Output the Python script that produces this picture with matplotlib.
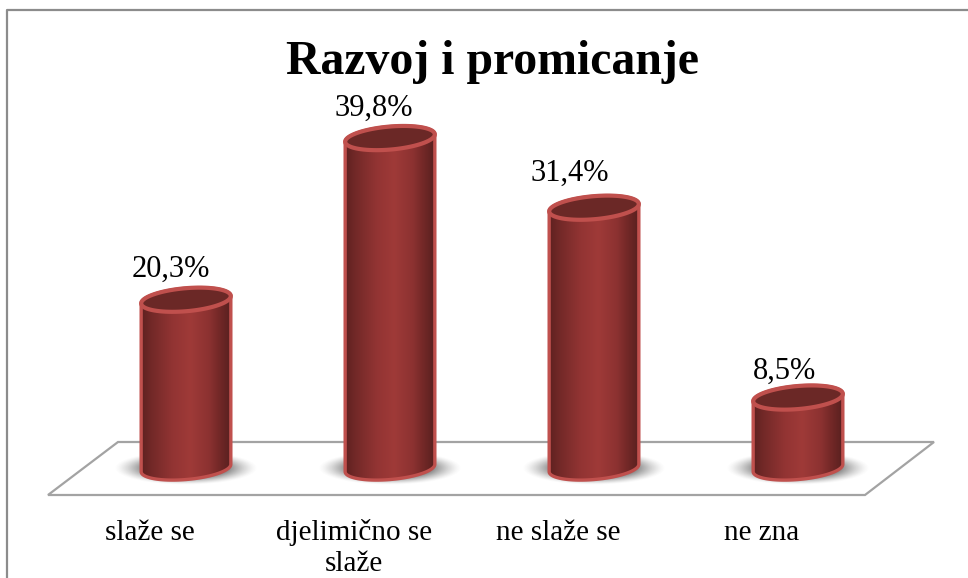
import numpy as np
import matplotlib
matplotlib.use('Agg')
import matplotlib.pyplot as plt
from matplotlib.colors import LinearSegmentedColormap
from matplotlib.patches import Polygon
from matplotlib.lines import Line2D

categories = ['slaže se', 'djelimično se\nslaže', 'ne slaže se', 'ne zna']
values = [20.3, 39.8, 31.4, 8.5]
value_labels = ['20,3%', '39,8%', '31,4%', '8,5%']
chart_title = 'Razvoj i promicanje'

W, H = 968, 578
X0, DX = 186, 204     # px of first bar, px between bars
Y0, DY = 468, 8.29    # px of value 0, px per percent
RX, RY, TILT = 45, 11.5, np.radians(-5)

# hand placed label offsets in px
label_dx = [-15, -16, -24, -14]
label_dy = [23, 22, 27, 19]
cat_dx = -36

plt.rcParams['font.family'] = ['Liberation Serif', 'DejaVu Serif']

fig = plt.figure(figsize=(W / 100, H / 100), dpi=100)
ax = fig.add_axes([0, 0, 1, 1])
ax.set_xlim(-X0 / DX, (W - X0) / DX)
ax.set_ylim((Y0 - H) / DY, Y0 / DY)
ax.axis('off')

body_cmap = LinearSegmentedColormap.from_list('body', [
    (0, '#5e2120'), (0.12, '#732928'), (0.35, '#923433'), (0.55, '#9f3a38'),
    (0.75, '#8d3231'), (0.9, '#6d2625'), (1, '#582120')])


def ell(cx, val, t0=0, t1=2 * np.pi, n=80):
    # ellipse tilted a little, offsets are in px and turned into data units
    t = np.linspace(t0, t1, n)
    px = RX * np.cos(t) * np.cos(TILT) + RY * np.sin(t) * np.sin(TILT)
    py = -RX * np.cos(t) * np.sin(TILT) + RY * np.sin(t) * np.cos(TILT)
    return np.column_stack([cx + px / DX, val + py / DY])


# floor plane
floor_x = (np.array([118, 934, 865, 48]) - X0) / DX
floor_y = (Y0 - np.array([442, 442, 495, 495])) / DY
ax.add_patch(Polygon(np.column_stack([floor_x, floor_y]), closed=True, fc='white',
                     ec='#a3a3a3', lw=1.6, zorder=1))

# blurred shadow under the bars
gx, gy = np.meshgrid(np.linspace(-1, 1, 160), np.linspace(-1, 1, 60))
d = np.sqrt(gx ** 2 + gy ** 2)
shadow = np.ones(d.shape + (4,))
shadow[..., :3] = 0.38
shadow[..., 3] = np.clip((1 - d) / 0.5, 0, 1) ** 1.4

t_r = np.arctan2(RY * np.sin(TILT), RX * np.cos(TILT))

for i, v in enumerate(values):
    ax.imshow(shadow, extent=[i - 72 / DX, i + 72 / DX, -17 / DY, 17 / DY],
              aspect='auto', zorder=2, interpolation='bilinear')

    top = ell(i, v)
    # body outline: lower half of the base, then back along the top
    base = ell(i, 0, t0=t_r + np.pi, t1=t_r + 2 * np.pi)
    lid = ell(i, v, t0=t_r, t1=t_r + np.pi)
    body = np.vstack([base, lid])
    poly = Polygon(body, closed=True, fc='none', ec='none', zorder=3)
    ax.add_patch(poly)
    im = ax.imshow(np.linspace(0, 1, 256)[None, :], cmap=body_cmap,
                   extent=[body[:, 0].min(), body[:, 0].max(), body[:, 1].min(), body[:, 1].max()],
                   aspect='auto', zorder=3)
    im.set_clip_path(poly)
    ax.add_patch(Polygon(body, closed=True, fc='none', ec='#c0504d', lw=2.4,
                         joinstyle='round', zorder=4))
    ax.add_patch(Polygon(top, closed=True, fc='#6b2826', ec='#c0504d', lw=3, zorder=5))

    ax.text(i + label_dx[i] / DX, v + label_dy[i] / DY, value_labels[i], ha='center',
            va='baseline', fontsize=22, color='black', zorder=6)
    for k, part in enumerate(categories[i].split('\n')):
        ax.text(i + cat_dx / DX, (Y0 - 540 - 31 * k) / DY, part, ha='center', va='baseline',
                fontsize=21, color='black', zorder=6)

ax.text((493 - X0) / DX, (Y0 - 74) / DY, chart_title, ha='center', va='baseline',
        fontsize=34.4, fontweight='bold', color='black', zorder=6)

# outer frame of the chart, open at the bottom and cut by the right edge
fx = np.array([7, 7, 968]) / W
fy = 1 - np.array([578, 10, 10]) / H
fig.add_artist(Line2D(fx, fy, transform=fig.transFigure, color='#8c8c8c', lw=1.6))

fig.savefig('out.png', dpi=100)
